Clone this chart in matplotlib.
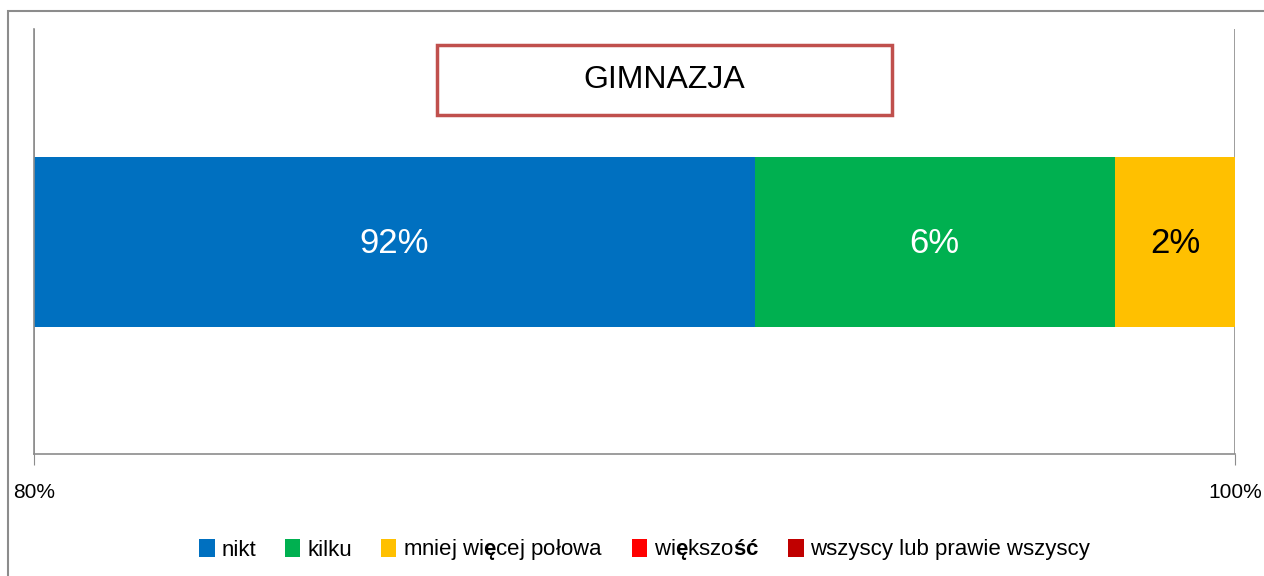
import matplotlib
matplotlib.use("Agg")
import matplotlib.pyplot as plt
from matplotlib.patches import Patch, Rectangle

plt.rcParams["font.family"] = ["Liberation Sans Narrow", "Liberation Sans", "DejaVu Sans"]
plt.rcParams["mathtext.fontset"] = "custom"
plt.rcParams["mathtext.rm"] = "Liberation Sans"
plt.rcParams["mathtext.bf"] = "Liberation Sans:bold"

# data
CATEGORY = "GIMNAZJA"
SERIES = ["nikt", "kilku", "mniej wi$\\mathbf{ę}$cej połowa",
          "wi$\\mathbf{ę}$kszo$\\mathbf{ść}$", "wszyscy lub prawie wszyscy"]
VALUES = [92, 6, 2, 0, 0]
COLORS = ["#0070C0", "#00B050", "#FFC000", "#FF0000", "#C00000"]
LABEL_COLORS = ["white", "white", "black", "black", "white"]
X_MIN, X_MAX = 80, 100
XTICKS = [80, 100]

fig = plt.figure(figsize=(12.64, 5.76), dpi=100)
ax = fig.add_axes([34 / 1264, 122 / 576, 1201 / 1264, 425 / 576])

left = 0
for val, col, lc in zip(VALUES, COLORS, LABEL_COLORS):
    ax.barh(0, val, left=left, height=0.4, color=col, linewidth=0)
    if val > 0:
        vis_lo = max(left, X_MIN)
        vis_hi = min(left + val, X_MAX)
        ax.text((vis_lo + vis_hi) / 2, -0.005, f"{val}%", ha="center", va="center",
                color=lc, fontsize=25)
    left += val

ax.set_xlim(X_MIN, X_MAX)
ax.set_ylim(-0.5, 0.5)
ax.set_yticks([])
ax.set_xticks(XTICKS)
ax.set_xticklabels([f"{t}%" for t in XTICKS], fontsize=15)
ax.tick_params(axis="x", length=8, color="#8c8c8c", pad=13)
ax.grid(axis="x", color="#8c8c8c", lw=1.2)
ax.set_axisbelow(True)
for s in ["top", "right"]:
    ax.spines[s].set_visible(False)
for s in ["left", "bottom"]:
    ax.spines[s].set_color("#8c8c8c")
    ax.spines[s].set_linewidth(1.2)

# title box
fig.patches.append(Rectangle((437 / 1264, 461 / 576), 455 / 1264, 70 / 576,
                             transform=fig.transFigure, fill=False,
                             edgecolor="#C0504D", lw=2.5))
fig.text(664 / 1264, 1 - 80 / 576, CATEGORY, ha="center", va="center", fontsize=23)

# outer chart frame
fig.patches.append(Rectangle((8 / 1264, -0.1), 1.2, 1 - 11 / 576 + 0.1,
                             transform=fig.transFigure, fill=False,
                             edgecolor="#8c8c8c", lw=1.5))

handles = [Patch(facecolor=c, edgecolor="none") for c in COLORS]
fig.legend(handles, SERIES, loc="center", bbox_to_anchor=(0.51, 1 - 550 / 576),
           ncol=5, frameon=False, fontsize=16, handlelength=0.7, handleheight=0.9,
           handletextpad=0.3, columnspacing=1.3)

fig.savefig("out.png", dpi=100)
